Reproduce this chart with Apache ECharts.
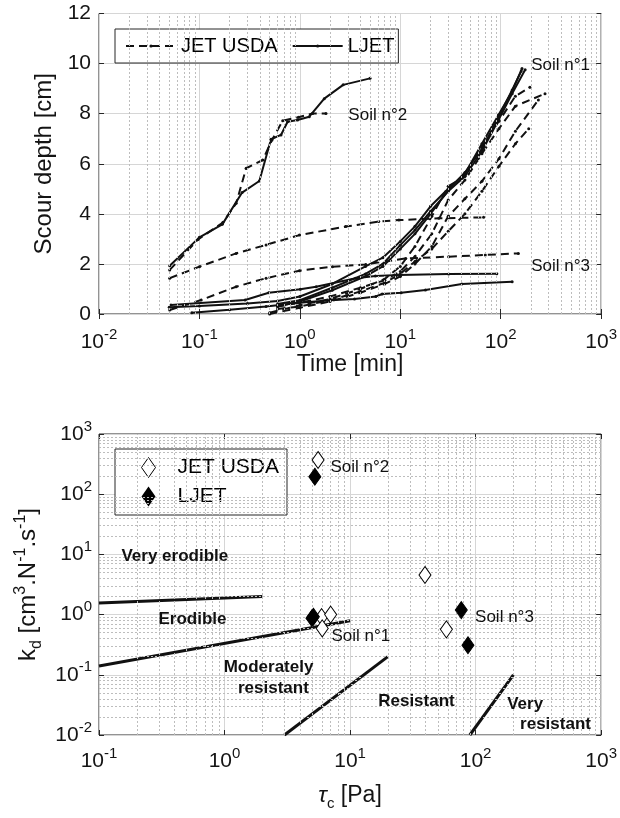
<!DOCTYPE html>
<html>
<head>
<meta charset="utf-8">
<script src="https://cdn.jsdelivr.net/npm/echarts@6/dist/echarts.min.js"></script>
<style>
  html, body { margin: 0; padding: 0; background: #fff; }
  #chart { width: 620px; height: 818px; }
</style>
</head>
<body>
<div id="chart"></div>
<script>
// ---- Scour depth histories: [time (min), depth (cm)] ----
const soil2Ljet  = [[0.0506,1.93],[0.1,3.06],[0.169,3.58],[0.266,4.85],[0.395,5.31],[0.516,6.98],[0.649,7.15],[0.755,7.68],[0.949,7.75],[1.24,7.88],[1.75,8.6],[2.7,9.15],[5.0,9.41]];
const soil2Usda  = [[0.0506,1.76],[0.097,2.98],[0.171,3.65],[0.232,4.42],[0.292,5.82],[0.427,6.15],[0.528,6.95],[0.675,7.72],[0.97,7.86],[1.34,8.01],[1.82,8.01]];
const soil3UsdaA = [[0.0506,1.43],[0.1,1.89],[0.232,2.42],[0.461,2.76],[0.99,3.15],[2.86,3.49],[6.1,3.69],[9.7,3.75],[24.2,3.82],[67.5,3.86]];
const soil3UsdaB = [[0.0506,0.16],[0.104,0.56],[0.232,1.09],[0.461,1.43],[0.99,1.73],[2.11,1.89],[4.53,1.98],[11.3,2.22],[30.3,2.29],[70.2,2.36],[150,2.42]];
const soil3LjetA = [[0.052,0.36],[0.285,0.56],[0.49,0.85],[1.01,0.99],[1.45,1.09],[3.6,1.43],[5.65,1.52],[9.7,1.56],[30.3,1.6],[91.5,1.61]];
const soil3LjetB = [[0.084,0.05],[0.2,0.17],[0.46,0.3],[1.0,0.45],[2.0,0.55],[3.5,0.6],[5.7,0.7],[6.6,0.8],[10.2,0.85],[17.8,0.96],[41,1.2],[130,1.29]];
const soil1LjetA = [[0.05,0.27],[0.1,0.32],[0.3,0.42],[0.6,0.52],[1,0.7],[2.1,1.2],[4.5,1.9],[6.7,2.25],[10,2.9],[14,3.5],[20,4.3],[30,5.0],[44,5.6],[65,6.8],[95,7.95],[130,8.9],[163,9.8]];
const soil1LjetB = [[0.6,0.4],[1,0.55],[2.1,1.05],[4.5,1.6],[6.7,2.0],[10,2.75],[14,3.35],[20,4.1],[30,4.9],[44,5.5],[65,6.5],[95,7.75],[130,8.8],[175,9.75]];
const soil1LjetC = [[0.6,0.3],[1,0.5],[2.1,0.95],[4.5,1.5],[6.7,1.9],[10,2.6],[14,3.2],[20,4.0],[30,4.95],[44,5.65],[65,6.6],[95,7.85],[130,8.95],[160,9.7]];
const soil1UsdaA = [[0.5,0.05],[1,0.35],[2,0.6],[4,1.0],[7,1.4],[10,1.9],[14,2.7],[20.6,3.9],[30,5.1],[44,5.5],[65,6.7],[96,7.7],[140,8.7],[195,9.05]];
const soil1UsdaB = [[0.6,0.3],[1,0.45],[2,0.7],[4,1.05],[7,1.35],[10,1.7],[14,2.3],[20.6,3.2],[30,4.55],[44,5.35],[65,6.4],[96,7.4],[140,8.3],[276,8.8]];
const soil1UsdaC = [[0.5,0.0],[1,0.25],[2,0.5],[4,0.85],[7,1.2],[10,1.5],[14,2.0],[20.6,2.7],[30,3.9],[44,4.6],[65,5.3],[96,6.2],[140,7.3],[237,8.55]];
const soil1UsdaD = [[0.6,0.2],[1,0.3],[2,0.55],[4,0.9],[7,1.25],[10,1.6],[14,2.1],[20.6,2.6],[30,3.3],[44,4.0],[65,4.9],[96,5.9],[140,6.8],[190,7.4]];

// ---- Erodibility: [tau_c (Pa), k_d (cm3/N/s)] ----
const kdUsda = [[5.56,370],[5.93,0.91],[7.0,1.0],[6.0,0.59],[39.5,4.55],[58.5,0.57]];
const kdLjet = [[5.24,195],[4.97,0.87],[5.1,0.92],[76.9,1.19],[86.9,0.31]];

// ---- Erodibility class boundaries ----
const boundaryA = [[0.1,1.56],[2,2.0]];
const boundaryB = [[0.1,0.14],[10,0.79]];
const boundaryC = [[3,0.01],[20,0.2]];
const boundaryD = [[90,0.01],[200,0.1]];

// ---- Text annotations ----
const topNotes = [
  { name: 'Soil n°2', value: [3.04, 7.95] },
  { name: 'Soil n°1', value: [201, 9.92] },
  { name: 'Soil n°3', value: [201, 1.89] }
];
const soilNotes = [
  { name: 'Soil n°2', value: [6.97, 280] },
  { name: 'Soil n°1', value: [7.1, 0.44] },
  { name: 'Soil n°3', value: [99, 0.90] }
];
const classNotesLeft = [
  { name: 'Very erodible', value: [0.151, 9.16] }
];
const classNotesCenter = [
  { name: 'Erodible', value: [0.556, 0.835] },
  { name: 'Moderately', value: [2.24, 0.133] },
  { name: 'resistant', value: [2.45, 0.0597] },
  { name: 'Resistant', value: [33.8, 0.0357] },
  { name: 'Very', value: [248, 0.0327] },
  { name: 'resistant', value: [433, 0.0152] }
];

const FONT = '"Liberation Sans", Arial, Helvetica, sans-serif';
const INK = '#141414';

function minorLogValues(lo, hi) {
  const out = [];
  for (let e = lo; e < hi; e++) {
    for (let m = 2; m <= 9; m++) out.push(+(m * Math.pow(10, e)).toPrecision(6));
  }
  return out;
}
const powRich = {
  b: { fontSize: 21, lineHeight: 30, fontFamily: FONT, color: INK },
  s: { fontSize: 15, lineHeight: 15, verticalAlign: 'top', fontFamily: FONT, color: INK }
};
function powLabel(v) {
  const e = Math.round(Math.log10(v));
  return '{b|10}{s|' + e + '}';
}
const majorSplit = { show: true, lineStyle: { color: '#d6d6d6', width: 1 } };
const dotted = { type: [2, 2], color: '#bdbdbd', width: 1 };
const tickStyle = { show: true, inside: true, length: 5, lineStyle: { color: '#262626' } };

function depthSeries(name, data, dashed) {
  return {
    type: 'line', name, data, xAxisIndex: 0, yAxisIndex: 0,
    symbol: 'circle', symbolSize: 3, showSymbol: true,
    lineStyle: { color: '#111', width: 2, type: dashed ? [8, 5] : 'solid' },
    itemStyle: { color: '#111' },
    z: 3, silent: true
  };
}
function boundarySeries(data) {
  return {
    type: 'line', name: 'boundary', data, xAxisIndex: 1, yAxisIndex: 1,
    symbol: 'none', lineStyle: { color: '#111', width: 3 }, z: 3, silent: true
  };
}
function noteSeries(data, xi, yi, align, bold) {
  return {
    type: 'scatter', name: 'note', data, xAxisIndex: xi, yAxisIndex: yi,
    symbolSize: 0, silent: true, z: 10,
    itemStyle: { opacity: 1 },
    label: {
      show: true, formatter: '{b}', position: 'inside', align, verticalAlign: 'middle',
      fontSize: 17, fontFamily: FONT, color: '#111', fontWeight: bold ? 'bold' : 'normal'
    }
  };
}

const chart = echarts.init(document.getElementById('chart'), null, { renderer: 'canvas' });
chart.setOption({
  animation: false,
  backgroundColor: '#fff',
  grid: [
    { left: 99, top: 13.5, width: 504, height: 300.5, show: true, borderColor: '#262626', borderWidth: 1, backgroundColor: 'transparent' },
    { left: 99, top: 434, width: 505, height: 301, show: true, borderColor: '#262626', borderWidth: 1, backgroundColor: 'transparent' }
  ],
  xAxis: [
    {
      type: 'log', logBase: 10, min: 0.01, max: 1000, gridIndex: 0,
      name: 'Time [min]', nameLocation: 'middle', nameGap: 38,
      nameTextStyle: { fontSize: 23, fontFamily: FONT, color: INK },
      axisLine: { show: false }, axisTick: tickStyle,
      axisLabel: { formatter: powLabel, rich: powRich, margin: 13 },
      splitLine: majorSplit
    },
    {
      type: 'log', logBase: 10, min: 0.1, max: 1000, gridIndex: 1,
      name: '{i|τ}{sub|c}{n| [Pa]}', nameLocation: 'middle', nameGap: 46,
      nameTextStyle: {
        rich: {
          i: { fontSize: 23, lineHeight: 30, fontStyle: 'italic', fontFamily: FONT, color: INK },
          sub: { fontSize: 15, lineHeight: 15, verticalAlign: 'bottom', fontFamily: FONT, color: INK },
          n: { fontSize: 23, lineHeight: 30, fontFamily: FONT, color: INK }
        }
      },
      axisLine: { show: false }, axisTick: tickStyle,
      axisLabel: { formatter: powLabel, rich: powRich, margin: 11 },
      splitLine: majorSplit
    },
    // mirrored top axes carrying the inner ticks of the box
    { type: 'log', logBase: 10, min: 0.01, max: 1000, gridIndex: 0, position: 'top',
      axisLine: { show: false }, axisTick: tickStyle, axisLabel: { show: false }, splitLine: { show: false } },
    { type: 'log', logBase: 10, min: 0.1, max: 1000, gridIndex: 1, position: 'top',
      axisLine: { show: false }, axisTick: tickStyle, axisLabel: { show: false }, splitLine: { show: false } }
  ],
  yAxis: [
    {
      type: 'value', min: 0, max: 12, interval: 2, gridIndex: 0,
      name: 'Scour depth [cm]', nameLocation: 'middle', nameGap: 37,
      nameTextStyle: { fontSize: 24, fontFamily: FONT, color: INK },
      axisLine: { show: false }, axisTick: tickStyle,
      axisLabel: { fontSize: 21, fontFamily: FONT, color: INK, margin: 8 },
      splitLine: majorSplit
    },
    {
      type: 'log', logBase: 10, min: 0.01, max: 1000, gridIndex: 1,
      name: '{t|k}{sub|d}{t| [cm}{sup|3}{t|.N}{sup|-1}{t|.s}{sup|-1}{t|]}', nameLocation: 'middle', nameGap: 50,
      nameTextStyle: {
        rich: {
          t: { fontSize: 24, lineHeight: 32, fontFamily: FONT, color: INK },
          sub: { fontSize: 16, lineHeight: 16, verticalAlign: 'bottom', fontFamily: FONT, color: INK },
          sup: { fontSize: 16, lineHeight: 16, verticalAlign: 'top', fontFamily: FONT, color: INK }
        }
      },
      axisLine: { show: false }, axisTick: tickStyle,
      axisLabel: { formatter: powLabel, rich: powRich, margin: 7 },
      splitLine: majorSplit
    },
    // mirrored right axes carrying the inner ticks of the box
    { type: 'value', min: 0, max: 12, interval: 2, gridIndex: 0, position: 'right',
      axisLine: { show: false }, axisTick: tickStyle, axisLabel: { show: false }, splitLine: { show: false } },
    { type: 'log', logBase: 10, min: 0.01, max: 1000, gridIndex: 1, position: 'right',
      axisLine: { show: false }, axisTick: tickStyle, axisLabel: { show: false }, splitLine: { show: false } }
  ],
  legend: [
    {
      data: ['JET USDA', 'LJET'], left: 115, top: 29, orient: 'horizontal',
      itemWidth: 50, itemHeight: 4, itemGap: 14, padding: [7, 4, 7, 10],
      borderColor: '#262626', borderWidth: 1, backgroundColor: '#fff', selectedMode: false,
      lineStyle: { width: 2 },
      textStyle: { fontSize: 20, fontFamily: FONT, color: '#000', lineHeight: 20 }
    },
    {
      data: [
        { name: 'kd: JET USDA', icon: 'diamond', itemStyle: { color: '#fff', borderColor: '#000', borderWidth: 1 } },
        { name: 'kd: LJET', icon: 'diamond', itemStyle: { color: '#000', borderColor: '#000', borderWidth: 0 } }
      ],
      left: 115, top: 449, orient: 'vertical',
      formatter: n => n.replace('kd: ', ''),
      itemWidth: 14, itemHeight: 20, itemGap: 8, padding: [8, 8, 8, 26],
      symbolKeepAspect: false,
      borderColor: '#262626', borderWidth: 1, backgroundColor: '#fff', selectedMode: false,
      textStyle: { fontSize: 21, fontFamily: FONT, color: '#000', lineHeight: 20, padding: [0, 0, 0, 17] }
    }
  ],
  series: [
    // minor (dotted) grid lines
    {
      type: 'line', name: 'minorTop', data: [], xAxisIndex: 0, yAxisIndex: 0, z: 1, silent: true,
      markLine: { silent: true, symbol: ['none', 'none'], label: { show: false }, animation: false,
        lineStyle: dotted, emphasis: { disabled: true },
        data: minorLogValues(-2, 3).map(v => ({ xAxis: v })) }
    },
    {
      type: 'line', name: 'minorBottom', data: [], xAxisIndex: 1, yAxisIndex: 1, z: 1, silent: true,
      markLine: { silent: true, symbol: ['none', 'none'], label: { show: false }, animation: false,
        lineStyle: dotted, emphasis: { disabled: true },
        data: minorLogValues(-1, 3).map(v => ({ xAxis: v }))
          .concat(minorLogValues(-2, 3).map(v => ({ yAxis: v }))) }
    },
    depthSeries('JET USDA', soil2Usda, true),
    depthSeries('LJET', soil2Ljet, false),
    depthSeries('JET USDA', soil3UsdaA, true),
    depthSeries('JET USDA', soil3UsdaB, true),
    depthSeries('LJET', soil3LjetA, false),
    depthSeries('LJET', soil3LjetB, false),
    depthSeries('JET USDA', soil1UsdaA, true),
    depthSeries('JET USDA', soil1UsdaB, true),
    depthSeries('JET USDA', soil1UsdaC, true),
    depthSeries('JET USDA', soil1UsdaD, true),
    depthSeries('LJET', soil1LjetA, false),
    depthSeries('LJET', soil1LjetB, false),
    depthSeries('LJET', soil1LjetC, false),
    boundarySeries(boundaryA),
    boundarySeries(boundaryB),
    boundarySeries(boundaryC),
    boundarySeries(boundaryD),
    {
      type: 'scatter', name: 'kd: JET USDA', data: kdUsda, xAxisIndex: 1, yAxisIndex: 1,
      symbol: 'diamond', symbolSize: [12, 17], z: 5, silent: true,
      itemStyle: { color: '#fff', borderColor: '#000', borderWidth: 1, opacity: 1 }
    },
    {
      type: 'scatter', name: 'kd: LJET', data: kdLjet, xAxisIndex: 1, yAxisIndex: 1,
      symbol: 'diamond', symbolSize: [12, 17], z: 6, silent: true,
      itemStyle: { color: '#000', borderColor: '#000', borderWidth: 1, opacity: 1 }
    },
    noteSeries(topNotes, 0, 0, 'left', false),
    noteSeries(soilNotes, 1, 1, 'left', false),
    noteSeries(classNotesLeft, 1, 1, 'left', true),
    noteSeries(classNotesCenter, 1, 1, 'center', true)
  ]
});
</script>
</body>
</html>
